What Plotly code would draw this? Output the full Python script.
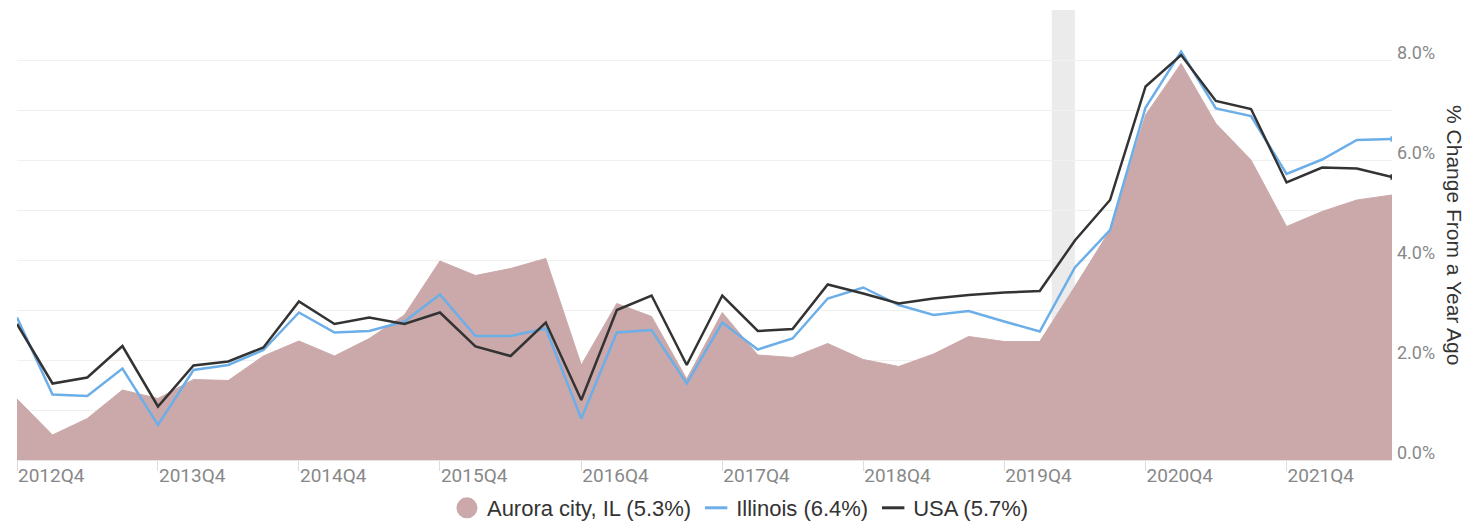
import plotly.graph_objects as go
import pandas as pd

quarters = pd.date_range("2012-10-01", periods=40, freq="QS").strftime("%Y-%m-%d").tolist()

aurora = [1.22, 0.50, 0.83, 1.40, 1.23, 1.61, 1.59, 2.08, 2.38, 2.08,
          2.43, 2.90, 3.98, 3.69, 3.83, 4.03, 1.90, 3.13, 2.87, 1.62,
          2.95, 2.10, 2.05, 2.33, 2.01, 1.87, 2.12, 2.47, 2.37, 2.37,
          3.47, 4.60, 6.90, 7.93, 6.73, 6.00, 4.67, 4.97, 5.20, 5.30]
illinois = [2.85, 1.31, 1.28, 1.83, 0.70, 1.80, 1.90, 2.20, 2.95, 2.55,
            2.58, 2.77, 3.31, 2.48, 2.48, 2.63, 0.83, 2.55, 2.60, 1.53,
            2.75, 2.21, 2.43, 3.23, 3.45, 3.10, 2.90, 2.98, 2.77, 2.57,
            3.85, 4.60, 7.05, 8.17, 7.03, 6.88, 5.72, 6.01, 6.40, 6.42]
usa = [2.72, 1.53, 1.65, 2.28, 1.07, 1.89, 1.97, 2.25, 3.17, 2.72,
       2.85, 2.72, 2.95, 2.27, 2.08, 2.75, 1.20, 3.00, 3.29, 1.90,
       3.29, 2.58, 2.62, 3.51, 3.33, 3.13, 3.23, 3.30, 3.35, 3.38,
       4.39, 5.20, 7.47, 8.10, 7.18, 7.02, 5.55, 5.85, 5.83, 5.66]

tick_vals = ["2012-10-01", "2013-10-01", "2014-10-01", "2015-10-01", "2016-10-01",
             "2017-10-01", "2018-10-01", "2019-10-01", "2020-10-01", "2021-10-01"]
tick_text = ["2012Q4", "2013Q4", "2014Q4", "2015Q4", "2016Q4",
             "2017Q4", "2018Q4", "2019Q4", "2020Q4", "2021Q4"]

names = ["Aurora city, IL (5.3%)", "Illinois (6.4%)", "USA (5.7%)"]

recession_start = "2020-02-01"
recession_end = "2020-04-01"

area_color = "rgb(203,169,170)"
il_color = "#6caee8"
us_color = "#333333"

fig = go.Figure()

fig.add_vrect(x0=recession_start, x1=recession_end, fillcolor="#ebebeb",
              line_width=0, layer="below")

# data traces
fig.add_trace(go.Scatter(x=quarters, y=aurora, mode="lines", fill="tozeroy",
                         fillcolor=area_color, line=dict(color=area_color, width=1),
                         showlegend=False, name=names[0]))
fig.add_trace(go.Scatter(x=quarters, y=illinois, mode="lines",
                         line=dict(color=il_color, width=2.5), showlegend=False,
                         name=names[1]))
fig.add_trace(go.Scatter(x=quarters, y=usa, mode="lines",
                         line=dict(color=us_color, width=2.5), showlegend=False,
                         name=names[2]))
fig.add_trace(go.Scatter(x=quarters[-1:], y=illinois[-1:], mode="markers",
                         marker=dict(color=il_color, size=6, symbol="triangle-right"),
                         showlegend=False))
fig.add_trace(go.Scatter(x=quarters[-1:], y=usa[-1:], mode="markers",
                         marker=dict(color=us_color, size=6, symbol="triangle-right"),
                         showlegend=False))

# legend-only entries (short symbols like the reference)
fig.add_trace(go.Scatter(x=[None], y=[None], mode="markers", name=names[0],
                         marker=dict(color=area_color, size=16, symbol="circle",
                                     line=dict(color=area_color, width=5))))
fig.add_trace(go.Scatter(x=[None], y=[None], mode="markers", name=names[1],
                         marker=dict(size=18, symbol="line-ew",
                                     line=dict(color=il_color, width=3))))
fig.add_trace(go.Scatter(x=[None], y=[None], mode="markers", name=names[2],
                         marker=dict(size=18, symbol="line-ew",
                                     line=dict(color=us_color, width=3))))

# page body has an 8px margin, so the figure is sized to fill the rest of the window
fig.update_layout(
    width=1462, height=513,
    margin=dict(l=9, r=78, t=2, b=61, autoexpand=False),
    paper_bgcolor="white", plot_bgcolor="white",
    font=dict(family="Roboto", color="#333333"),
    legend=dict(orientation="h", xref="container", yref="container",
                x=0.501, xanchor="center", y=13 / 513, yanchor="middle",
                font=dict(size=22, color="#333333", family="Liberation Sans"),
                itemsizing="trace", traceorder="normal"),
    annotations=[dict(text="% Change From a Year Ago", xref="paper", yref="paper",
                      x=1.0458, y=0.5, textangle=90, showarrow=False,
                      font=dict(size=21, color="#333333", family="Liberation Sans"),
                      xanchor="center", yanchor="middle")],
)

fig.update_xaxes(
    type="date", range=[quarters[0], quarters[-1]], automargin=False,
    tickvals=tick_vals, ticktext=tick_text,
    ticklabelposition="outside right", ticklabelstandoff=-2,
    ticks="outside", ticklen=10, tickcolor="#dddddd",
    showgrid=False, showline=True, linecolor="#e4e4e4",
    tickfont=dict(size=19, color="#888888"), zeroline=False,
)
fig.update_yaxes(
    side="right", range=[0, 9], dtick=2, tick0=0, automargin=False,
    tickformat=".1f", ticksuffix="%",
    ticklabelposition="outside", ticklabelshift=-7, ticklabelstandoff=4,
    showgrid=True, gridcolor="#f0f0f0",
    minor=dict(dtick=1, showgrid=True, gridcolor="#f0f0f0"),
    tickfont=dict(size=18, color="#888888"), zeroline=False,
)

fig.write_html("out.html")
